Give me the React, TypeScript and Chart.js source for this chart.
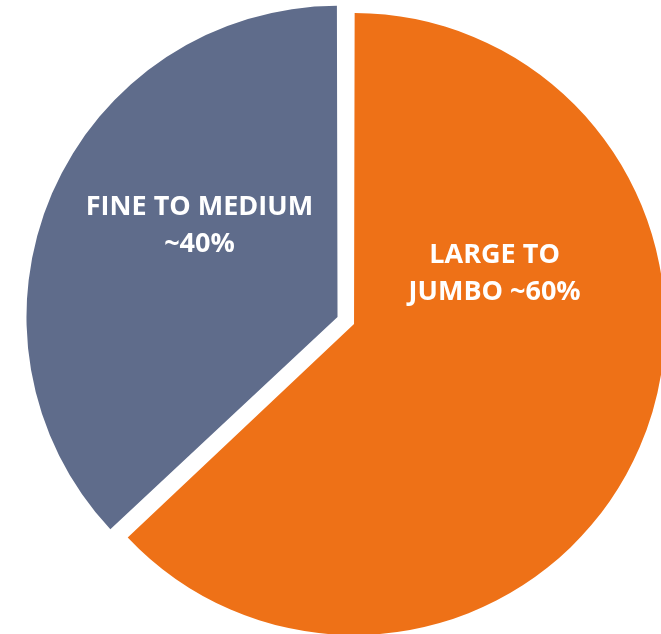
import { useEffect, useRef } from 'react';
import { Chart, registerables } from 'chart.js';

Chart.register(...registerables);

// slices, clockwise from 12 o'clock
const categories = ['LARGE TO JUMBO', 'FINE TO MEDIUM'];
const shares = [63, 37];
const labelLines = [
  ['LARGE TO', 'JUMBO ~60%'],
  ['FINE TO MEDIUM', '~40%'],
];

const sliceColors = ['#EE7117', '#5F6C8B'];
// explode offsets (chart.js divides by 4 and grows the radius a bit, hence the odd numbers)
const sliceOffsets = [15.4, 56.6];
// label placement relative to each slice's own centre: angle from top (deg), distance (px)
const labelAngles = [69.6, 304];
const labelDistances = [150, 166.5];

const labelPlugin = {
  id: 'sliceLabels',
  afterDatasetsDraw(chart: Chart) {
    const meta = chart.getDatasetMeta(0);
    const ctx = chart.ctx;
    ctx.save();
    ctx.fillStyle = '#ffffff';
    ctx.font = 'bold 27px "Open Sans", sans-serif';
    ctx.textAlign = 'center';
    ctx.textBaseline = 'alphabetic';
    meta.data.forEach((el: any, i: number) => {
      const half = (el.startAngle + el.endAngle) / 2;
      const shift = (sliceOffsets[i] || 0) / 4;
      const cx = el.x + Math.cos(half) * shift;
      const cy = el.y + Math.sin(half) * shift;
      const a = (labelAngles[i] * Math.PI) / 180;
      const lx = cx + Math.sin(a) * labelDistances[i];
      const ly = cy - Math.cos(a) * labelDistances[i];
      const lines = labelLines[i];
      const lineGap = 37.5;
      lines.forEach((line, j) => {
        const y = ly + (j - (lines.length - 1) / 2) * lineGap + 9.7;
        ctx.fillText(line, lx, y);
      });
    });
    ctx.restore();
  },
};

export default function App() {
  const canvasRef = useRef<HTMLCanvasElement>(null);

  useEffect(() => {
    if (!canvasRef.current) return;
    const chart = new Chart(canvasRef.current, {
      type: 'pie',
      data: {
        labels: categories,
        datasets: [
          {
            data: shares,
            backgroundColor: sliceColors,
            borderWidth: 0,
            offset: sliceOffsets,
          },
        ],
      },
      options: {
        animation: false,
        responsive: false,
        radius: 307.2,
        layout: { padding: { left: 40, right: 0, top: 11, bottom: 0 } },
        plugins: {
          legend: { display: false },
          tooltip: { enabled: false },
        },
        events: [],
      } as any,
      plugins: [labelPlugin],
    });
    return () => chart.destroy();
  }, []);

  return (
    <div style={{ position: 'fixed', left: 0, top: 0, width: 661, height: 634, background: '#fff' }}>
      <canvas ref={canvasRef} width={661} height={634} style={{ width: 661, height: 634 }} />
    </div>
  );
}
